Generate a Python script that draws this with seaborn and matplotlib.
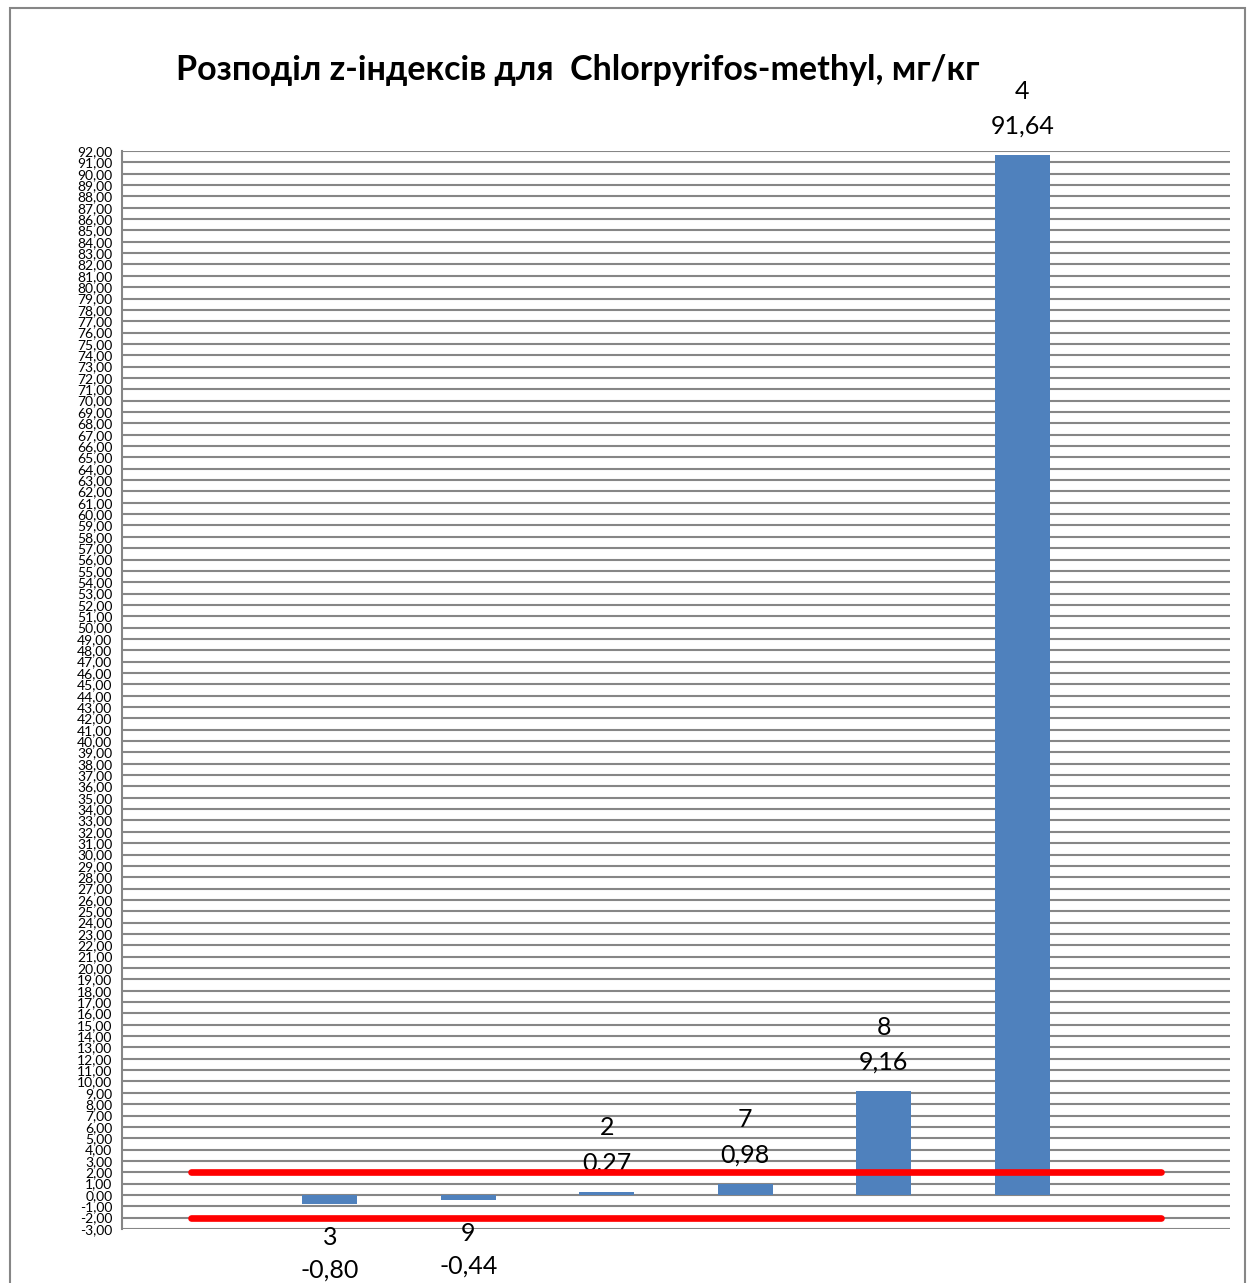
import numpy as np
import pandas as pd
import matplotlib.pyplot as plt
import seaborn as sns
from matplotlib.patches import Rectangle

# data
lab_ids = ["3", "9", "2", "7", "8", "4"]
z_scores = [-0.80, -0.44, 0.27, 0.98, 9.16, 91.64]
limit_upper = 2.0
limit_lower = -2.0
y_ticks = np.arange(-3, 93, 1)

# empty category at both ends (Excel chart has blank first/last points)
order = [" "] + lab_ids + ["  "]
df = pd.DataFrame({"lab": lab_ids, "z": z_scores})

sns.set_style("white")
plt.rcParams["font.family"] = ["Lato", "DejaVu Sans"]
plt.rcParams["text.color"] = "black"
plt.rcParams["ytick.labelcolor"] = "black"

fig = plt.figure(figsize=(12.5, 12.83), dpi=100)
ax = fig.add_axes([0.0976, 0.0421, 0.8864, 0.8402])

sns.barplot(data=df, x="lab", y="z", order=order, color="#4F81BD",
            width=0.4, saturation=1, errorbar=None, ax=ax, zorder=3,
            linewidth=0, edgecolor="none")

# limit lines from first to last category
ends = [0, len(order) - 1]
sns.lineplot(x=ends, y=[limit_upper] * 2, color="#FF0000", linewidth=4.8,
             solid_capstyle="round", ax=ax, zorder=4)
sns.lineplot(x=ends, y=[limit_lower] * 2, color="#FF0000", linewidth=4.8,
             solid_capstyle="round", ax=ax, zorder=4)

ax.set_xlim(-0.5, len(order) - 0.5)
ax.set_ylim(-3, 92)
ax.set_yticks(y_ticks)
ax.set_yticklabels([f"{v:.2f}".replace(".", ",") for v in y_ticks], fontsize=10)
ax.tick_params(axis="y", which="major", direction="out", length=5, width=1.5,
               color="#868686", pad=2)
ax.set_xticks([])
ax.set_xlabel("")
ax.set_ylabel("")
ax.yaxis.grid(True, color="#868686", linewidth=1.5, zorder=0)
ax.set_axisbelow(True)
for s in ["top", "right", "bottom"]:
    ax.spines[s].set_visible(False)
ax.spines["left"].set_color("#868686")
ax.spines["left"].set_linewidth(1.5)

# data labels: lab id + value
for lab, v in zip(lab_ids, z_scores):
    x = order.index(lab)
    txt = f"{v:.2f}".replace(".", ",")
    if v >= 0:
        off_val, off_id = 21, 46
    else:
        off_val, off_id = -47.5, -24
    ax.annotate(txt, (x, v), xytext=(0, off_val), textcoords="offset points",
                ha="center", va="center", fontsize=18, annotation_clip=False)
    ax.annotate(lab, (x, v), xytext=(0, off_id), textcoords="offset points",
                ha="center", va="center", fontsize=18, annotation_clip=False)

fig.text(0.462, 0.9454, "Розподіл z-індексів для  Chlorpyrifos-methyl, мг/кг",
         ha="center", va="center", fontsize=24.5, fontweight="bold")

fig.patches.append(Rectangle((0.008, -0.01), 0.988, 1.0038, transform=fig.transFigure,
                             fill=False, edgecolor="#868686", linewidth=1.5))

fig.savefig("out.png", dpi=100)
